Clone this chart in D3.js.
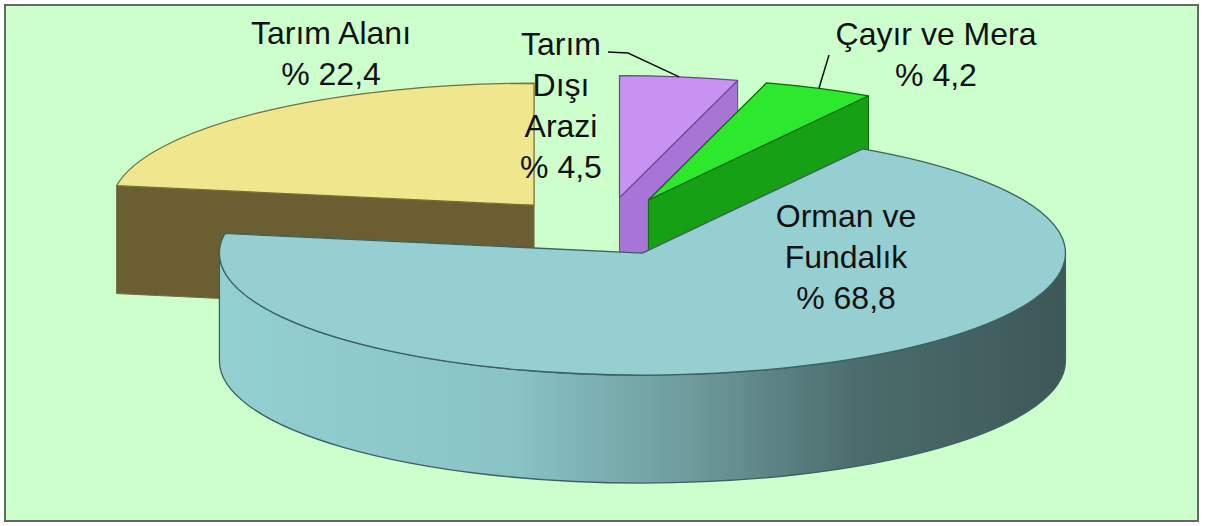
<!DOCTYPE html>
<html>
<head>
<meta charset="utf-8">
<script src="https://cdn.jsdelivr.net/npm/d3@7"></script>
<style>
  body { margin: 0; background: #ffffff; }
  text { font-family: "Liberation Sans", Arial, sans-serif; }
</style>
</head>
<body>
<div id="chart"></div>
<script>
// land use shares (%), clockwise from 12 o'clock
var categories = ["Tarım Dışı Arazi", "Çayır ve Mera", "Orman ve Fundalık", "Tarım Alanı"];
var values = [4.5, 4.2, 68.8, 22.4];
var labelLines = [["Tarım", "Dışı", "Arazi"], ["Çayır ve Mera"], ["Orman ve", "Fundalık"], ["Tarım Alanı"]];

var svgWidth = 1205;
var svgHeight = 526;

// 3d pie geometry
var cx = 604, cy = 229;
var rx = 423, ry = 122, depth = 108;
var k = ry / rx;
var explode = [110, 110, 92, 108];

var topColors = ["#c792f2", "#2ee82e", "#95cfd1", "#efe68d"];
var sideColors = ["#a874d6", "#15a015", "url(#ormanSide)", "#6b5e32"];
var edgeColors = ["#6a4a8a", "#0b6a0b", "#3b6262", "#77703c"];

// label placement: centre x, first baseline
var labelPos = [[561, 55], [936, 45], [846, 227], [331, 44]];
var lineGap = 41;
var hasLeader = [true, true, false, false];

var svg = d3.select("#chart")
  .append("svg")
  .attr("width", svgWidth)
  .attr("height", svgHeight);

var defs = svg.append("defs");
var grad = defs.append("linearGradient")
  .attr("id", "ormanSide")
  .attr("gradientUnits", "userSpaceOnUse")
  .attr("x1", 220).attr("x2", 1066).attr("y1", 0).attr("y2", 0);
[[0, "#93d0d2"], [0.35, "#89c3c5"], [0.55, "#6f9c9e"], [0.75, "#4c6d6d"], [1, "#3e5757"]]
  .forEach(function(s) {
    grad.append("stop").attr("offset", s[0]).attr("stop-color", s[1]);
  });

// plot area
svg.append("rect")
  .attr("x", 5).attr("y", 5)
  .attr("width", 1193).attr("height", 516)
  .attr("fill", "#ccffcc")
  .attr("stroke", "#666")
  .attr("stroke-width", 2);

var pie = d3.pie().sort(null).startAngle(0).endAngle(2 * Math.PI);
var arcs = pie(values);

// centre of each slice after exploding
arcs.forEach(function(d, i) {
  var mid = (d.startAngle + d.endAngle) / 2;
  d.c = [cx + explode[i] * Math.sin(mid), cy - explode[i] * k * Math.cos(mid)];
});

function pt(c, a, z) {
  return [c[0] + rx * Math.sin(a), c[1] - ry * Math.cos(a) + (z || 0)];
}

function topPath(d) {
  var p0 = pt(d.c, d.startAngle), p1 = pt(d.c, d.endAngle);
  var large = (d.endAngle - d.startAngle) > Math.PI ? 1 : 0;
  return "M" + d.c + "L" + p0 + "A" + rx + "," + ry + " 0 " + large + " 1 " + p1 + "Z";
}

function wallPath(d) {
  var b0 = Math.max(d.startAngle, Math.PI / 2);
  var b1 = Math.min(d.endAngle, 3 * Math.PI / 2);
  if (b1 <= b0) return null;
  var large = (b1 - b0) > Math.PI ? 1 : 0;
  return "M" + pt(d.c, b0) +
    "A" + rx + "," + ry + " 0 " + large + " 1 " + pt(d.c, b1) +
    "L" + pt(d.c, b1, depth) +
    "A" + rx + "," + ry + " 0 " + large + " 0 " + pt(d.c, b0, depth) + "Z";
}

function facePath(d, a) {
  var p = pt(d.c, a);
  return "M" + d.c + "L" + p + "L" + [p[0], p[1] + depth] + "L" + [d.c[0], d.c[1] + depth] + "Z";
}

// back to front
var order = [3, 0, 1, 2];
order.forEach(function(i) {
  var d = arcs[i];
  var g = svg.append("g");
  // radial cut faces that look toward the viewer
  [[d.startAngle, d.startAngle - Math.PI / 2], [d.endAngle, d.endAngle + Math.PI / 2]].forEach(function(f) {
    if (-Math.cos(f[1]) > 0.05) {
      g.append("path")
        .attr("d", facePath(d, f[0]))
        .attr("fill", sideColors[i])
        .attr("stroke", edgeColors[i])
        .attr("stroke-width", 1);
    }
  });
  var w = wallPath(d);
  if (w) {
    g.append("path")
      .attr("d", w)
      .attr("fill", sideColors[i])
      .attr("stroke", edgeColors[i])
      .attr("stroke-width", 1.3);
  }
  g.append("path")
    .attr("d", topPath(d))
    .attr("fill", topColors[i])
    .attr("stroke", edgeColors[i])
    .attr("stroke-width", 1.3)
    .attr("stroke-linejoin", "round");
});

// leader lines to the slice rim
arcs.forEach(function(d, i) {
  if (!hasLeader[i]) return;
  var mid = (d.startAngle + d.endAngle) / 2;
  var end = pt(d.c, mid);
  var pts;
  if (i === 0) pts = [[labelPos[i][0] + 47, labelPos[i][1] - 3], [labelPos[i][0] + 67, labelPos[i][1] - 2], end];
  else pts = [[labelPos[i][0] - 107, labelPos[i][1] + 10], end];
  svg.append("path")
    .attr("d", d3.line()(pts))
    .attr("fill", "none")
    .attr("stroke", "#111")
    .attr("stroke-width", 1.5);
});

// labels
var fmt = function(v) { return "% " + d3.format(".1f")(v).replace(".", ","); };
arcs.forEach(function(d, i) {
  var lines = labelLines[i].concat([fmt(values[i])]);
  var t = svg.append("text")
    .attr("text-anchor", "middle")
    .attr("font-size", "32px")
    .attr("fill", "#111");
  lines.forEach(function(s, j) {
    t.append("tspan")
      .attr("x", labelPos[i][0])
      .attr("y", labelPos[i][1] + j * lineGap)
      .text(s);
  });
});
</script>
</body>
</html>
